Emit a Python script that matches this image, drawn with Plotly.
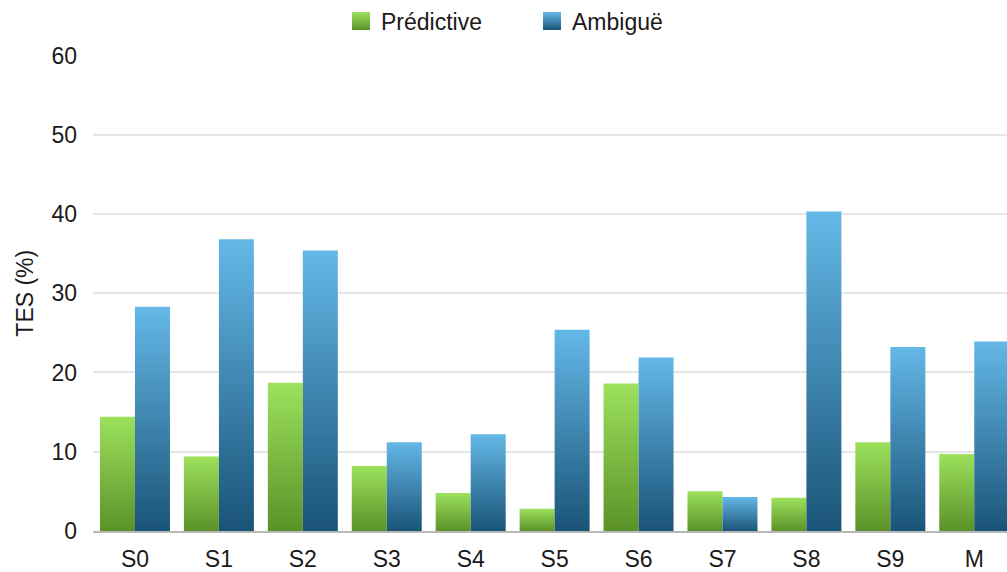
import plotly.graph_objects as go

categories = ["S0", "S1", "S2", "S3", "S4", "S5", "S6", "S7", "S8", "S9", "M"]
predictive = [14.4, 9.4, 18.7, 8.2, 4.8, 2.8, 18.6, 5.0, 4.2, 11.2, 9.7]
ambigue = [28.3, 36.8, 35.4, 11.2, 12.2, 25.4, 21.9, 4.3, 40.3, 23.2, 23.9]
y_ticks = [0, 10, 20, 30, 40, 50, 60]

FONT = "Liberation Sans, Arial, Helvetica, sans-serif"

fig = go.Figure()
fig.add_trace(go.Bar(x=categories, y=predictive, name="Prédictive",
                     marker=dict(color="#78b840", line=dict(width=0))))
fig.add_trace(go.Bar(x=categories, y=ambigue, name="Ambiguë",
                     marker=dict(color="#3583b3", line=dict(width=0))))

fig.update_layout(
    width=1007, height=572,
    margin=dict(l=93, r=0, t=53, b=38),
    paper_bgcolor="white", plot_bgcolor="white",
    barmode="group", bargap=0.166, bargroupgap=0,
    font=dict(family=FONT, size=23, color="#1a1a1a"),
    showlegend=True,
    legend=dict(orientation="h", xref="container", yref="container",
                x=341 / 1007, xanchor="left", y=1 - 21 / 572, yanchor="middle",
                font=dict(size=23), entrywidth=146, entrywidthmode="pixels",
                traceorder="normal", bgcolor="rgba(0,0,0,0)"),
    xaxis=dict(range=[-0.5, 10.39], showgrid=False, showline=True,
               linecolor="#b8b8b8", linewidth=1.5, ticks="",
               ticklabelstandoff=7, tickfont=dict(size=23), fixedrange=True),
    yaxis=dict(range=[0, 60], tickvals=y_ticks, showgrid=True,
               gridcolor="#e6e6e6", gridwidth=1.5, zeroline=False,
               ticks="", ticklabelstandoff=15, tickfont=dict(size=23),
               title=dict(text="TES (%)", font=dict(size=23), standoff=11),
               fixedrange=True),
)

post = """
document.body.style.margin = '0';
document.body.style.padding = '0';
var gd = document.getElementById('{plot_id}');
function applyGrad(){
  var svg = gd.querySelector('svg.main-svg');
  var ns = 'http://www.w3.org/2000/svg';
  var defs = svg.querySelector('defs');
  if(!defs){ defs = document.createElementNS(ns,'defs'); svg.insertBefore(defs, svg.firstChild); }
  var specs = [['gradG','#9de15c','#5a9229'],['gradB','#64b8e7','#1a5478']];
  specs.forEach(function(s){
    if(document.getElementById(s[0])) return;
    var g = document.createElementNS(ns,'linearGradient');
    g.setAttribute('id', s[0]); g.setAttribute('x1','0'); g.setAttribute('y1','0');
    g.setAttribute('x2','0'); g.setAttribute('y2','1');
    var a = document.createElementNS(ns,'stop'); a.setAttribute('offset','0'); a.setAttribute('stop-color', s[1]);
    var b = document.createElementNS(ns,'stop'); b.setAttribute('offset','1'); b.setAttribute('stop-color', s[2]);
    g.appendChild(a); g.appendChild(b); defs.appendChild(g);
  });
  var ids = ['gradG','gradB'];
  gd.querySelectorAll('.barlayer .trace').forEach(function(t,i){
    t.querySelectorAll('path').forEach(function(p){ p.style.fill = 'url(#'+ids[i%2]+')'; });
  });
  gd.querySelectorAll('.legend .traces').forEach(function(t,i){
    t.querySelectorAll('.legendpoints path').forEach(function(p){
      p.setAttribute('d','M9,9H-9V-9H9Z');
      p.style.fill = 'url(#'+ids[i%2]+')';
    });
  });
}
applyGrad();
gd.on('plotly_afterplot', applyGrad);
"""

fig.write_html("out.html", post_script=post, config={"displayModeBar": False})
